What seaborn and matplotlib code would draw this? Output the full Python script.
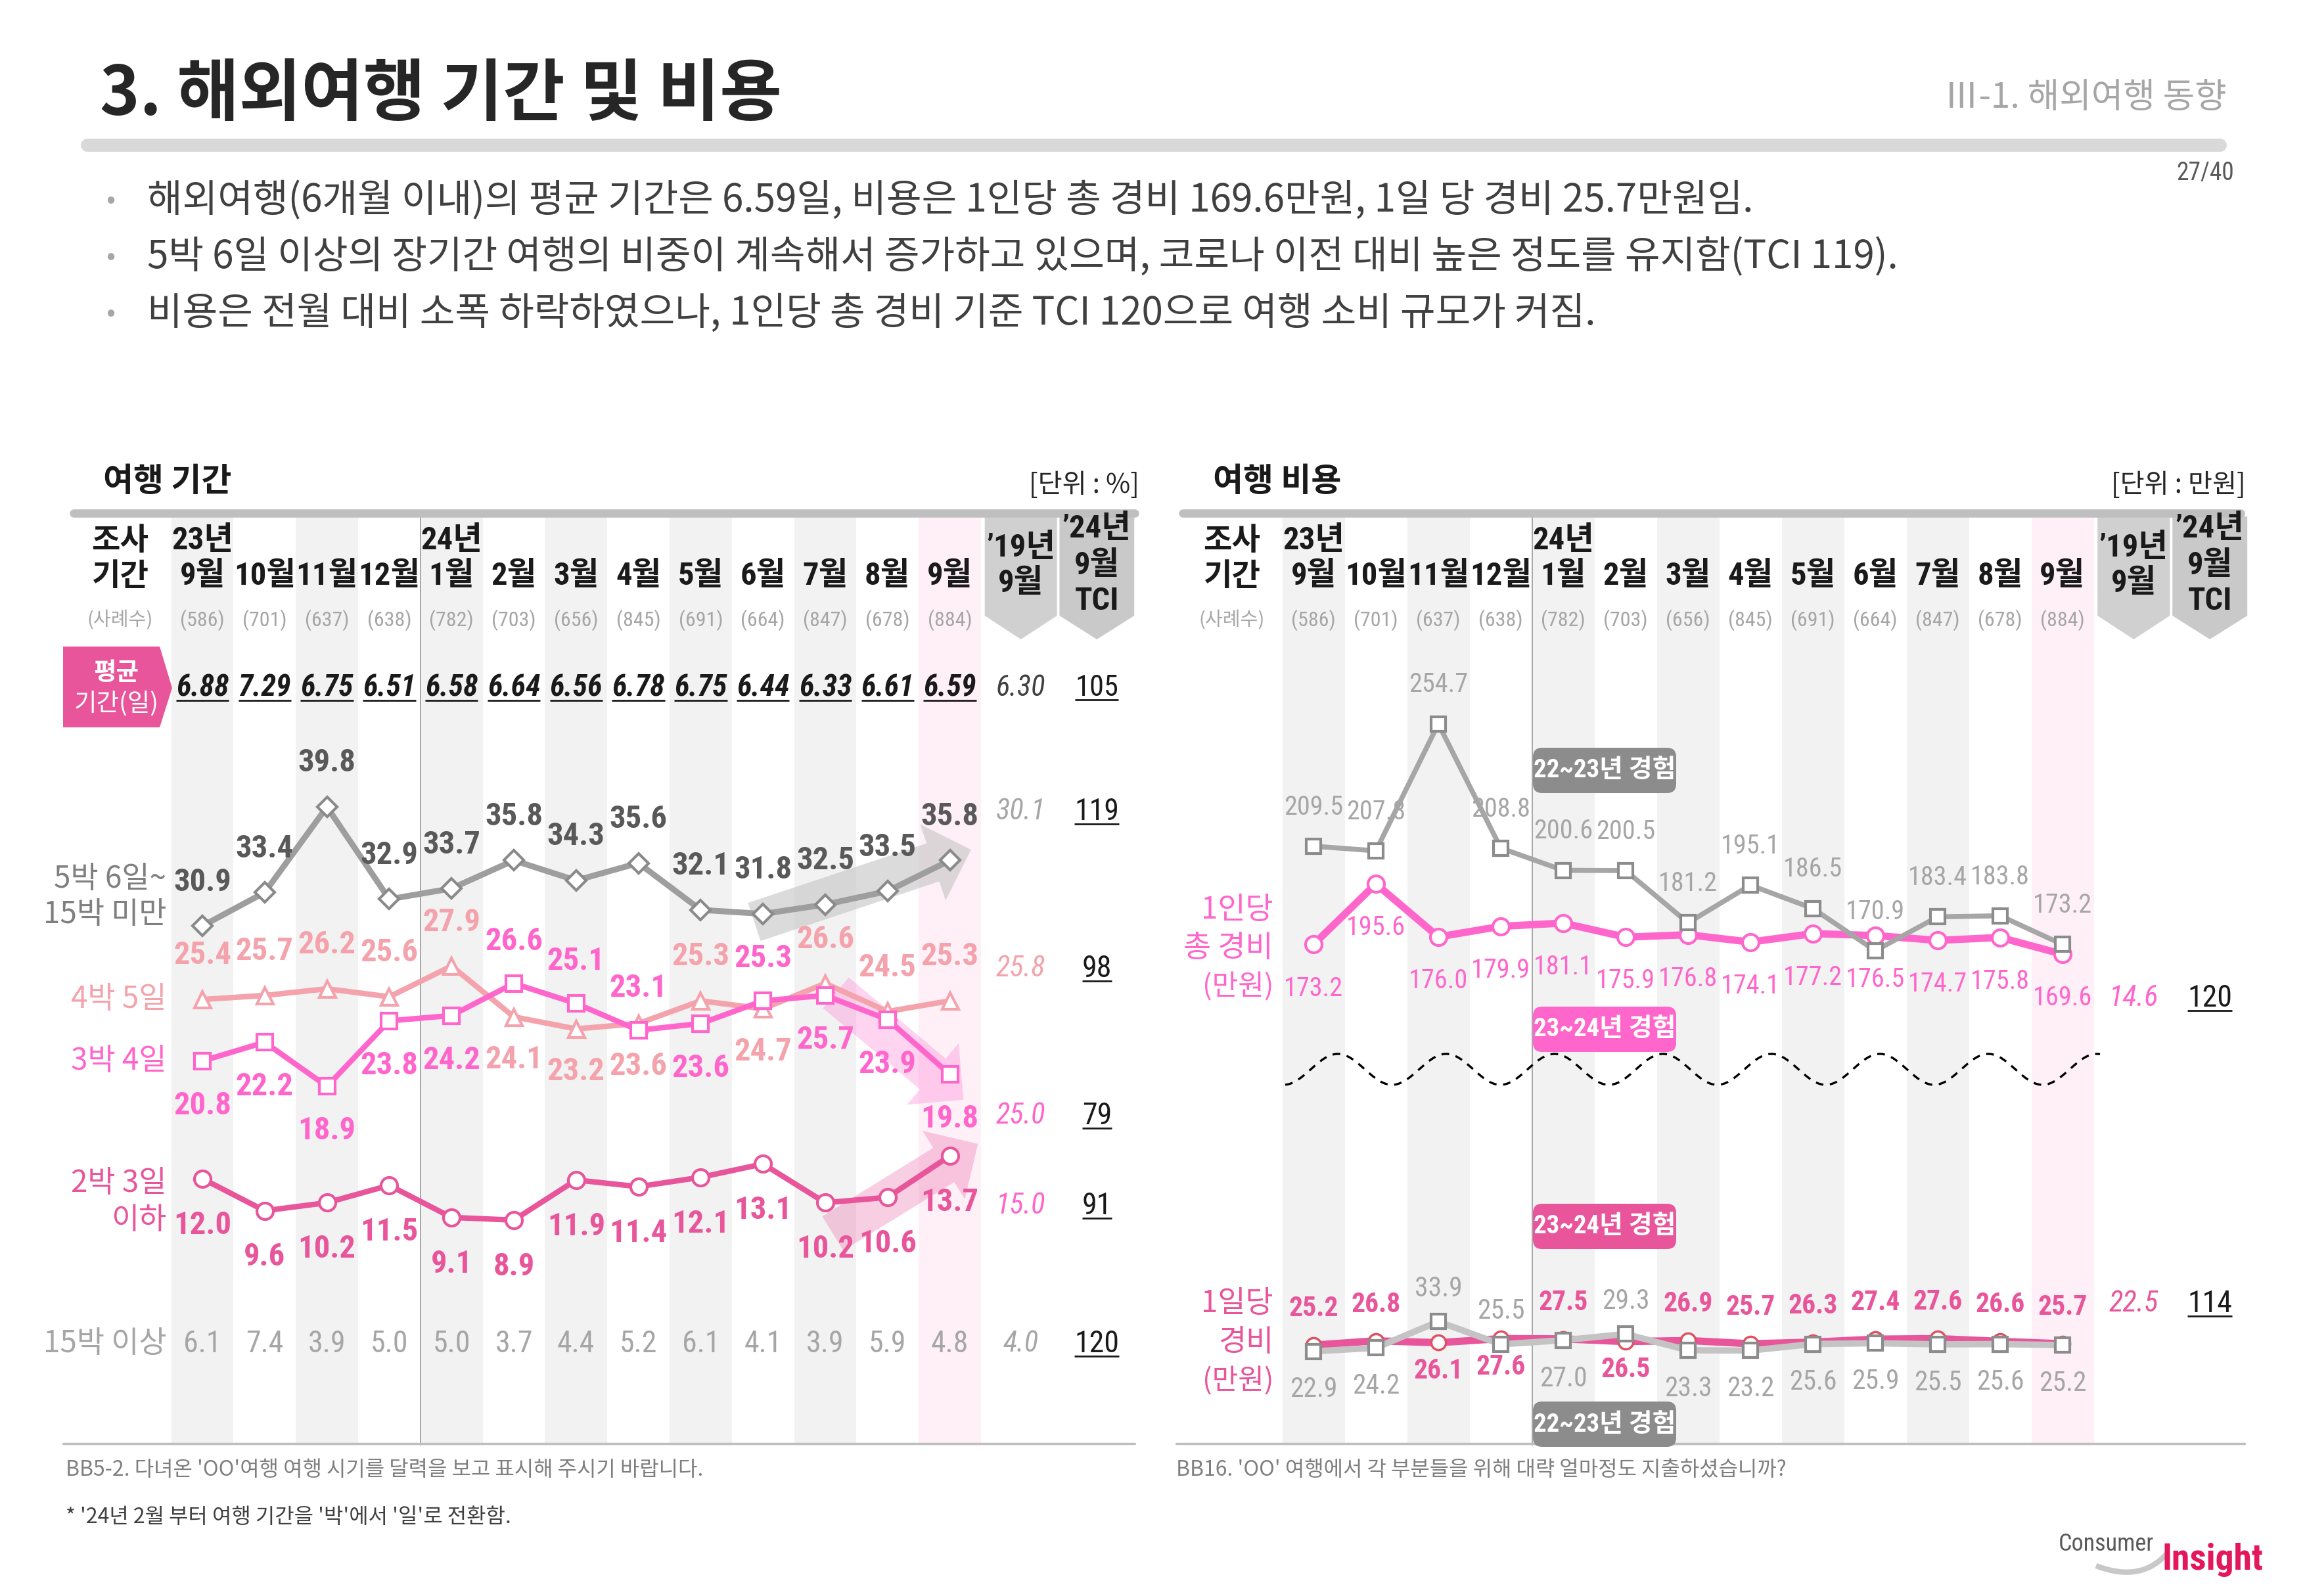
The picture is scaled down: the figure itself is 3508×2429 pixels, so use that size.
import numpy as np
import pandas as pd
import matplotlib
matplotlib.use("Agg")
import matplotlib.pyplot as plt
import matplotlib.transforms as mtransforms
from matplotlib.patches import Polygon, FancyBboxPatch, PathPatch
from matplotlib.path import Path
import seaborn as sns

sns.set_theme(style="white")
KR = ["Noto Sans CJK KR", "DejaVu Sans"]
NUM = ["Liberation Sans Narrow", "Roboto Condensed", "Open Sans Condensed", "Roboto",
       "Noto Sans CJK KR", "DejaVu Sans"]
plt.rcParams["font.family"] = KR
plt.rcParams["axes.unicode_minus"] = False

# ---------------------------------------------------------------- data
months = ["9월", "10월", "11월", "12월", "1월", "2월", "3월", "4월", "5월", "6월", "7월", "8월", "9월"]
samples = [586, 701, 637, 638, 782, 703, 656, 845, 691, 664, 847, 678, 884]

avg_days = [6.88, 7.29, 6.75, 6.51, 6.58, 6.64, 6.56, 6.78, 6.75, 6.44, 6.33, 6.61, 6.59]
avg_days_19 = "6.30"
avg_days_tci = "105"

dur_5n6d = [30.9, 33.4, 39.8, 32.9, 33.7, 35.8, 34.3, 35.6, 32.1, 31.8, 32.5, 33.5, 35.8]
dur_4n5d = [25.4, 25.7, 26.2, 25.6, 27.9, 24.1, 23.2, 23.6, 25.3, 24.7, 26.6, 24.5, 25.3]
dur_3n4d = [20.8, 22.2, 18.9, 23.8, 24.2, 26.6, 25.1, 23.1, 23.6, 25.3, 25.7, 23.9, 19.8]
dur_2n3d = [12.0, 9.6, 10.2, 11.5, 9.1, 8.9, 11.9, 11.4, 12.1, 13.1, 10.2, 10.6, 13.7]
dur_15n = [6.1, 7.4, 3.9, 5.0, 5.0, 3.7, 4.4, 5.2, 6.1, 4.1, 3.9, 5.9, 4.8]
dur_19 = ["30.1", "25.8", "25.0", "15.0", "4.0"]
dur_tci = ["119", "98", "79", "91", "120"]

cost_total_2324 = [173.2, 195.6, 176.0, 179.9, 181.1, 175.9, 176.8, 174.1, 177.2, 176.5, 174.7, 175.8, 169.6]
cost_total_2223 = [209.5, 207.8, 254.7, 208.8, 200.6, 200.5, 181.2, 195.1, 186.5, 170.9, 183.4, 183.8, 173.2]
cost_daily_2324 = [25.2, 26.8, 26.1, 27.6, 27.5, 26.5, 26.9, 25.7, 26.3, 27.4, 27.6, 26.6, 25.7]
cost_daily_2223 = [22.9, 24.2, 33.9, 25.5, 27.0, 29.3, 23.3, 23.2, 25.6, 25.9, 25.5, 25.6, 25.2]
cost_19 = ["14.6", "22.5"]
cost_tci = ["120", "114"]

# label placement (a = above, b = below)
pos_4n5d = list("aaaaabbbabaaa")
pos_3n4d = list("bbbbbaaababbb")
pos_daily_2324 = list("aabbabaaaaaaa")
pos_daily_2223 = list("bbaababbbbbbb")

# ---------------------------------------------------------------- figure
W, H = 3508, 2429
fig = plt.figure(figsize=(W / 100, H / 100), dpi=100)
fig.patch.set_facecolor("white")


def frac_rect(x0, y0, x1, y1):
    return [x0 / W, 1 - y1 / H, (x1 - x0) / W, (y1 - y0) / H]


axL = fig.add_axes(frac_rect(260.6, 786, 1730, 2200))
axR = fig.add_axes(frac_rect(1951.5, 786, 3424, 2200))
ov = fig.add_axes([0, 0, 1, 1])
ov.set_xlim(0, W)
ov.set_ylim(H, 0)
ov.set_axis_off()
ov.set_zorder(10)
ov.patch.set_alpha(0)

GRAY_BAND = "#f2f2f2"
PINK_BAND = "#fff0f7"
C_5 = "#9e9e9e"
C_4 = "#f4a3ac"
C_3 = "#ff66cc"
C_2 = "#e8559a"

for ax in (axL, axR):
    for i in range(13):
        if i == 12:
            ax.axvspan(i - 0.5, i + 0.5, color=PINK_BAND, lw=0, zorder=0)
        elif i % 2 == 0:
            ax.axvspan(i - 0.5, i + 0.5, color=GRAY_BAND, lw=0, zorder=0)
    ax.axvline(3.5, color="#a6a6a6", lw=1.4, zorder=1)


def draw_series(ax, vals, color, marker, ms, lw, mec=None, mew=3.0, z=3):
    df = pd.DataFrame({"x": np.arange(len(vals)), "y": vals})
    sns.lineplot(data=df, x="x", y="y", ax=ax, color=color, linewidth=lw, marker=marker,
                 markersize=ms, markerfacecolor="white", markeredgecolor=mec or color,
                 markeredgewidth=mew, zorder=z, sort=False, legend=False)


def label_series(ax, vals, pos, color, size, up, down, weight="bold"):
    for i, (v, p) in enumerate(zip(vals, pos)):
        off = up if p == "a" else -down
        ax.annotate(f"{v:.1f}", (i, v), xytext=(0, off), textcoords="offset points",
                    ha="center", va="center", fontsize=size, color=color,
                    fontweight=weight, family=NUM, zorder=6)


def big_arrow(ax, tail, tip, color, alpha, scale):
    ax.annotate("", xy=tip, xytext=tail,
                arrowprops=dict(arrowstyle="simple,head_length=1.0,head_width=2.0,tail_width=1.0",
                                mutation_scale=scale, color=color, alpha=alpha, lw=0,
                                shrinkA=0, shrinkB=0), zorder=1.5)


# ---------------------------------------------------------------- left chart
big_arrow(axL, (8.86, 31.2), (12.34, 36.6), "#c4c4c4", 0.6, 44)
big_arrow(axL, (10.17, 25.9), (12.22, 17.9), C_3, 0.28, 44)
big_arrow(axL, (10.12, 7.9), (12.45, 14.6), C_2, 0.28, 44)

draw_series(axL, dur_5n6d, C_5, "D", 15, 6.5, mec="#8a8a8a", z=3)
draw_series(axL, dur_4n5d, C_4, "^", 18, 6.0, z=3.2)
draw_series(axL, dur_3n4d, C_3, "s", 17, 6.0, z=3.4)
draw_series(axL, dur_2n3d, C_2, "o", 18, 6.0, z=3.6)

label_series(axL, dur_5n6d, ["a"] * 13, "#595959", 35, 48, 48)
label_series(axL, dur_4n5d, pos_4n5d, C_4, 35, 48, 47)
label_series(axL, dur_3n4d, pos_3n4d, C_3, 35, 46, 49)
label_series(axL, dur_2n3d, ["b"] * 13, C_2, 35, 48, 51)

axL.set_xlim(-0.5, 15.0)
axL.set_ylim((2038 - 2200) / 20.35, (2038 - 786) / 20.35)
axL.set_axis_off()

# ---------------------------------------------------------------- right chart
draw_series(axR, cost_total_2324, C_3, "o", 18, 8.0, z=3)
draw_series(axR, cost_total_2223, "#a6a6a6", "s", 16, 5.5, mec="#8c8c8c", z=3.5)
draw_series(axR, cost_daily_2324, C_2, "o", 16, 8.0, mec="#e05060", mew=2.5, z=3)
draw_series(axR, cost_daily_2223, "#c4c4c4", "s", 16, 7.0, mec="#8c8c8c", z=3.5)

label_series(axR, cost_total_2223, ["a"] * 13, "#a6a6a6", 29, 43, 43, weight="normal")
label_series(axR, cost_total_2324, ["b"] * 13, C_3, 29, 48, 48, weight="normal")
label_series(axR, cost_daily_2324, pos_daily_2324, C_2, 30, 40, 31)
label_series(axR, cost_daily_2223, pos_daily_2223, "#a6a6a6", 30, 36, 42, weight="normal")

axR.set_xlim(-0.5, 15.0)
axR.set_ylim((2151 - 2200) / 4.12, (2151 - 786) / 4.12)
axR.set_axis_off()

# ---------------------------------------------------------------- overlay: header
under = []


def txt(x, y, s, trans=None, underline=False, **kw):
    kw.setdefault("va", "center")
    t = ov.text(x, y, s, transform=trans if trans is not None else ov.transData, **kw)
    if underline:
        under.append(t)
    return t


txt(152, 145, "3. 해외여행 기간 및 비용", fontsize=74, fontweight="bold", color="#262626", family=KR)
txt(3389, 148, "Ⅲ-1. 해외여행 동향", ha="right", fontsize=38, color="#a6a6a6", family=KR)
ov.plot([133, 3379], [221, 221], lw=14.4, color="#d9d9d9", solid_capstyle="round")
txt(3400, 264, "27/40", ha="right", fontsize=27, color="#595959", family=NUM)

bullets = [
    "해외여행(6개월 이내)의 평균 기간은 6.59일, 비용은 1인당 총 경비 169.6만원, 1일 당 경비 25.7만원임.",
    "5박 6일 이상의 장기간 여행의 비중이 계속해서 증가하고 있으며, 코로나 이전 대비 높은 정도를 유지함(TCI 119).",
    "비용은 전월 대비 소폭 하락하였으나, 1인당 총 경비 기준 TCI 120으로 여행 소비 규모가 커짐.",
]
for yb, s in zip([306, 392, 477], bullets):
    txt(168, yb, "•", ha="center", fontsize=30, color="#a6a6a6", family=KR)
    txt(224, yb, s, fontsize=42, color="#404040", family=KR)

# panel titles & rules
txt(157, 734, "여행 기간", fontsize=36, fontweight="bold", color="#1a1a1a", family=KR)
txt(1734, 738, "[단위 : %]", ha="right", fontsize=29, color="#262626", family=KR)
txt(1846, 734, "여행 비용", fontsize=36, fontweight="bold", color="#1a1a1a", family=KR)
txt(3418, 738, "[단위 : 만원]", ha="right", fontsize=29, color="#262626", family=KR)
ov.plot([112, 1727], [781, 781], lw=9, color="#bfbfbf", solid_capstyle="round", zorder=3)
ov.plot([1800, 3410], [781, 781], lw=9, color="#bfbfbf", solid_capstyle="round", zorder=3)
ov.plot([96, 1727], [2197, 2197], lw=2.5, color="#bfbfbf")
ov.plot([1790, 3416], [2197, 2197], lw=2.5, color="#bfbfbf")

COL19, COLTCI = 13.14, 14.36
for ax, xlab in ((axL, 183), (axR, 1875)):
    bt = mtransforms.blended_transform_factory(ax.transData, ov.transData)
    txt(xlab, 823, "조사", ha="center", fontsize=34, fontweight="bold", color="#1a1a1a", family=KR)
    txt(xlab, 877, "기간", ha="center", fontsize=34, fontweight="bold", color="#1a1a1a", family=KR)
    txt(xlab, 944, "(사례수)", ha="center", fontsize=21, color="#a6a6a6", family=KR)
    txt(0, 823, "23년", trans=bt, ha="center", fontsize=35, fontweight="bold", color="#1a1a1a", family=NUM)
    txt(4, 823, "24년", trans=bt, ha="center", fontsize=35, fontweight="bold", color="#1a1a1a", family=NUM)
    for i, (m, n) in enumerate(zip(months, samples)):
        txt(i, 877, m, trans=bt, ha="center", fontsize=35, fontweight="bold", color="#1a1a1a", family=NUM)
        txt(i, 944, f"({n})", trans=bt, ha="center", fontsize=23, color="#a6a6a6", family=NUM)
    # '19 and TCI header shapes
    for (xa, xb), c in (((12.56, 13.72), "#d0d0d0"), ((13.76, 14.96), "#c9c9c9")):
        xm = (xa + xb) / 2
        poly = Polygon([(xa, 786), (xb, 786), (xb, 937), (xm, 973), (xa, 937)], closed=True,
                       transform=bt, facecolor=c, edgecolor="none", zorder=1)
        ov.add_patch(poly)
    txt(COL19, 834, "’19년", trans=bt, ha="center", fontsize=35, fontweight="bold", color="#1a1a1a", family=NUM)
    txt(COL19, 888, "9월", trans=bt, ha="center", fontsize=35, fontweight="bold", color="#1a1a1a", family=NUM)
    txt(COLTCI, 805, "’24년", trans=bt, ha="center", fontsize=35, fontweight="bold", color="#1a1a1a", family=NUM)
    txt(COLTCI, 861, "9월", trans=bt, ha="center", fontsize=35, fontweight="bold", color="#1a1a1a", family=NUM)
    txt(COLTCI, 915, "TCI", trans=bt, ha="center", fontsize=35, fontweight="bold", color="#1a1a1a", family=NUM)

# ---------------------------------------------------------------- left table text
btL = mtransforms.blended_transform_factory(axL.transData, ov.transData)
ov.add_patch(Polygon([(96, 984), (243, 984), (262, 1047), (243, 1107), (96, 1107)],
                     closed=True, facecolor="#e8559a", edgecolor="none"))
txt(177, 1023, "평균", ha="center", fontsize=27, fontweight="bold", color="white", family=KR)
txt(177, 1071, "기간(일)", ha="center", fontsize=27, color="white", family=KR)
for i, v in enumerate(avg_days):
    txt(i, 1047, f"{v:.2f}", trans=btL, ha="center", fontsize=33, fontweight="bold",
        style="italic", color="#1a1a1a", family=NUM, underline=True)
txt(COL19, 1047, avg_days_19, trans=btL, ha="center", fontsize=32, style="italic",
    color="#404040", family=NUM)
txt(COLTCI, 1047, avg_days_tci, trans=btL, ha="center", fontsize=32, color="#1a1a1a",
    family=NUM, underline=True)

row_y = [1235, 1474, 1698, 1835, 2045]
row_c19 = ["#a6a6a6", C_4, C_3, C_3, "#a6a6a6"]
for y, s19, stci, c in zip(row_y, dur_19, dur_tci, row_c19):
    txt(COL19, y, s19, trans=btL, ha="center", fontsize=32, style="italic", color=c, family=NUM)
    txt(COLTCI, y, stci, trans=btL, ha="center", fontsize=33, color="#1a1a1a", family=NUM,
        underline=True)
for i, v in enumerate(dur_15n):
    txt(i, 2045, f"{v:.1f}", trans=btL, ha="center", fontsize=33, color="#a6a6a6", family=NUM)

txt(253, 1338, "5박 6일~", ha="right", fontsize=33, color="#7f7f7f", family=KR)
txt(253, 1392, "15박 미만", ha="right", fontsize=33, color="#7f7f7f", family=KR)
txt(253, 1521, "4박 5일", ha="right", fontsize=33, color=C_4, family=KR)
txt(253, 1615, "3박 4일", ha="right", fontsize=33, color=C_3, family=KR)
txt(253, 1801, "2박 3일", ha="right", fontsize=33, color=C_2, family=KR)
txt(253, 1857, "이하", ha="right", fontsize=33, color=C_2, family=KR)
txt(253, 2045, "15박 이상", ha="right", fontsize=33, color="#a6a6a6", family=KR)

txt(100, 2237, "BB5-2. 다녀온 'OO'여행 여행 시기를 달력을 보고 표시해 주시기 바랍니다.",
    fontsize=23, color="#7f7f7f", family=KR)
txt(100, 2309, "* '24년 2월 부터 여행 기간을 '박'에서 '일'로 전환함.",
    fontsize=23, color="#404040", family=KR)

# ---------------------------------------------------------------- right table text
btR = mtransforms.blended_transform_factory(axR.transData, ov.transData)
txt(1938, 1385, "1인당", ha="right", fontsize=33, color=C_3, family=KR)
txt(1938, 1443, "총 경비", ha="right", fontsize=33, color=C_3, family=KR)
txt(1938, 1503, "(만원)", ha="right", fontsize=31, color=C_3, family=KR)
txt(1938, 1984, "1일당", ha="right", fontsize=33, color=C_2, family=KR)
txt(1938, 2043, "경비", ha="right", fontsize=33, color=C_2, family=KR)
txt(1938, 2103, "(만원)", ha="right", fontsize=31, color=C_2, family=KR)

txt(COL19, 1519, cost_19[0], trans=btR, ha="center", fontsize=32, style="italic", color=C_3, family=NUM)
txt(COLTCI, 1519, cost_tci[0], trans=btR, ha="center", fontsize=33, color="#1a1a1a", family=NUM,
    underline=True)
txt(COL19, 1984, cost_19[1], trans=btR, ha="center", fontsize=32, style="italic", color=C_2, family=NUM)
txt(COLTCI, 1984, cost_tci[1], trans=btR, ha="center", fontsize=33, color="#1a1a1a", family=NUM,
    underline=True)

badges = [(1138, "#8c8c8c", "22~23년 경험"), (1532, "#ff66cc", "23~24년 경험"),
          (1832, "#e8559a", "23~24년 경험"), (2133, "#8c8c8c", "22~23년 경험")]
for y0, c, s in badges:
    ov.add_patch(FancyBboxPatch((2333, y0), 218, 69, boxstyle="round,pad=0,rounding_size=14",
                                facecolor=c, edgecolor="none", zorder=4))
    txt(2442, y0 + 35, s, ha="center", fontsize=28, fontweight="bold", color="white",
        family=NUM, zorder=5)

xw = np.linspace(1956, 3196, 500)
yw = 1627.5 - 23.5 * np.cos(2 * np.pi * (xw - 2036) / 165)
ov.plot(xw, yw, color="black", lw=2.4, ls=(0, (3.5, 3)))

txt(1790, 2237, "BB16. 'OO' 여행에서 각 부분들을 위해 대략 얼마정도 지출하셨습니까?",
    fontsize=23, color="#7f7f7f", family=KR)

# logo
sw = Path([(3190, 2383), (3260, 2410), (3300, 2362)], [Path.MOVETO, Path.CURVE3, Path.CURVE3])
ov.add_patch(PathPatch(sw, facecolor="none", edgecolor="#c8c8c8", lw=6))
txt(3133, 2350, "Consumer", fontsize=26, color="#595959", family=NUM)
txt(3290, 2374, "Insight", fontsize=40, fontweight="bold", color="#e3175b", family=NUM)

# ---------------------------------------------------------------- underlines
fig.canvas.draw()
r = fig.canvas.get_renderer()
for t in under:
    bb = t.get_window_extent(r)
    y = (H - bb.y0) - 0.06 * bb.height
    ov.plot([bb.x0, bb.x1], [y, y], color="#1a1a1a", lw=2.0, solid_capstyle="butt")

fig.savefig("out.png", dpi=100, facecolor="white")
